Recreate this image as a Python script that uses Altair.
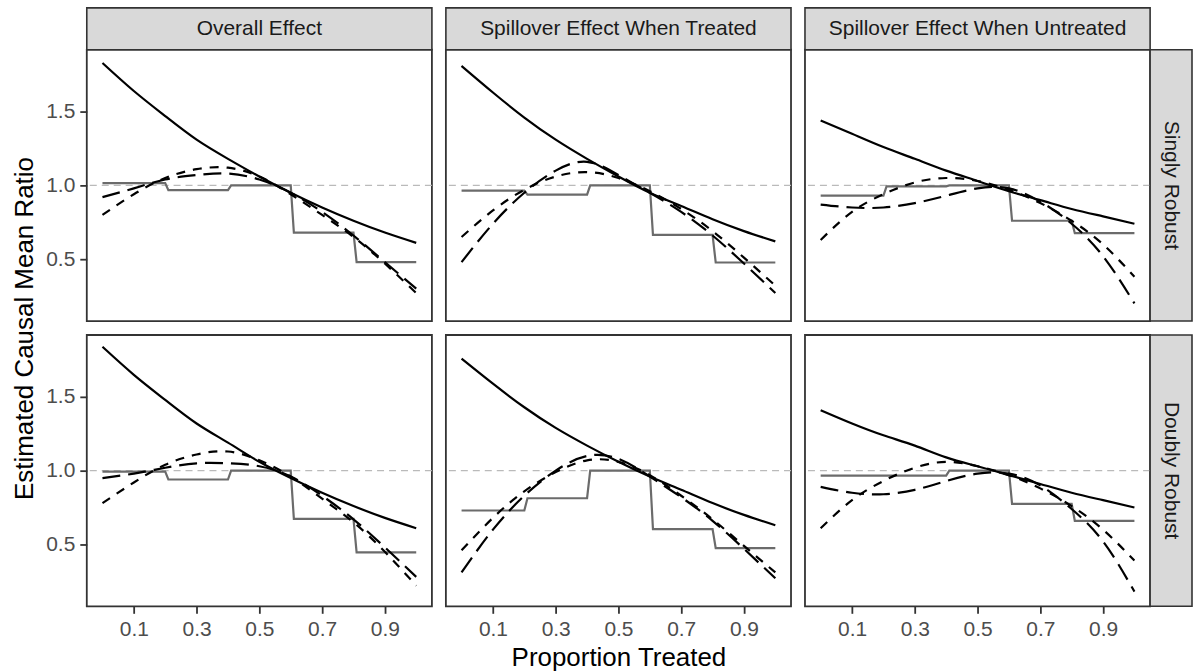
import altair as alt
import pandas as pd

# ---------------- data ----------------
x_grid = [0.0, 0.1, 0.2, 0.3, 0.4, 0.5, 0.6, 0.7, 0.8, 0.9, 1.0]
col_labels = ["Overall Effect", "Spillover Effect When Treated", "Spillover Effect When Untreated"]
row_labels = ["Singly Robust", "Doubly Robust"]
x_ticks = [0.1, 0.3, 0.5, 0.7, 0.9]
y_ticks = [0.5, 1.0, 1.5]
step_breaks = [0.0, 0.2, 0.4, 0.6, 0.8, 1.0]

# Singly Robust row
solid_sr_overall = [1.83, 1.64, 1.47, 1.31, 1.18, 1.06, 0.95, 0.85, 0.76, 0.68, 0.61]
short_sr_overall = [0.80, 0.94, 1.05, 1.11, 1.12, 1.06, 0.94, 0.80, 0.65, 0.47, 0.27]
long_sr_overall = [0.92, 0.98, 1.04, 1.07, 1.08, 1.04, 0.95, 0.82, 0.66, 0.48, 0.30]
step_sr_overall = [1.015, 0.968, 1.0, 0.68, 0.48]

solid_sr_treated = [1.81, 1.63, 1.46, 1.31, 1.18, 1.06, 0.95, 0.86, 0.77, 0.69, 0.62]
short_sr_treated = [0.65, 0.83, 0.97, 1.06, 1.09, 1.05, 0.96, 0.84, 0.69, 0.51, 0.32]
long_sr_treated = [0.48, 0.74, 0.95, 1.10, 1.16, 1.07, 0.95, 0.82, 0.66, 0.47, 0.27]
step_sr_treated = [0.965, 0.937, 1.0, 0.664, 0.477]

solid_sr_untreated = [1.44, 1.35, 1.26, 1.18, 1.10, 1.03, 0.96, 0.90, 0.84, 0.79, 0.74]
short_sr_untreated = [0.63, 0.82, 0.94, 1.02, 1.05, 1.03, 0.97, 0.88, 0.76, 0.60, 0.38]
long_sr_untreated = [0.87, 0.85, 0.85, 0.88, 0.93, 0.98, 0.98, 0.89, 0.74, 0.52, 0.20]
step_sr_untreated = [0.93, 0.993, 1.0, 0.76, 0.676]

# Doubly Robust row
solid_dr_overall = [1.84, 1.65, 1.48, 1.32, 1.19, 1.06, 0.95, 0.85, 0.76, 0.68, 0.61]
short_dr_overall = [0.78, 0.92, 1.04, 1.11, 1.13, 1.07, 0.96, 0.81, 0.65, 0.45, 0.22]
long_dr_overall = [0.95, 0.98, 1.02, 1.05, 1.05, 1.03, 0.96, 0.83, 0.67, 0.48, 0.28]
step_dr_overall = [0.993, 0.94, 1.0, 0.673, 0.446]

solid_dr_treated = [1.76, 1.59, 1.43, 1.29, 1.17, 1.06, 0.96, 0.87, 0.78, 0.70, 0.63]
short_dr_treated = [0.46, 0.68, 0.86, 0.99, 1.07, 1.06, 0.97, 0.83, 0.67, 0.49, 0.31]
long_dr_treated = [0.31, 0.60, 0.83, 1.00, 1.10, 1.08, 0.96, 0.82, 0.66, 0.47, 0.27]
step_dr_treated = [0.73, 0.813, 1.0, 0.604, 0.475]

solid_dr_untreated = [1.41, 1.32, 1.24, 1.17, 1.09, 1.03, 0.97, 0.91, 0.85, 0.80, 0.75]
short_dr_untreated = [0.61, 0.80, 0.93, 1.02, 1.06, 1.03, 0.97, 0.88, 0.76, 0.60, 0.39]
long_dr_untreated = [0.89, 0.85, 0.84, 0.87, 0.93, 0.98, 0.98, 0.90, 0.74, 0.52, 0.18]
step_dr_untreated = [0.966, 0.966, 1.0, 0.775, 0.66]

reference_level = [1.0]

panels_data = {
    (0, 0): (solid_sr_overall, short_sr_overall, long_sr_overall, step_sr_overall),
    (0, 1): (solid_sr_treated, short_sr_treated, long_sr_treated, step_sr_treated),
    (0, 2): (solid_sr_untreated, short_sr_untreated, long_sr_untreated, step_sr_untreated),
    (1, 0): (solid_dr_overall, short_dr_overall, long_dr_overall, step_dr_overall),
    (1, 1): (solid_dr_treated, short_dr_treated, long_dr_treated, step_dr_treated),
    (1, 2): (solid_dr_untreated, short_dr_untreated, long_dr_untreated, step_dr_untreated),
}

# ---------------- styling ----------------
W, H = 346, 272
GAP = 14
STRIP = 42
FONT = "Liberation Sans"
LABEL_SIZE = 21
TITLE_SIZE = 26
XS = alt.Scale(domain=[-0.05, 1.05], nice=False, zero=False)
YS = alt.Scale(domain=[0.08, 1.92], nice=False, zero=False)


def step_frame(levels):
    xs, ys = [], []
    for i, lv in enumerate(levels):
        start = step_breaks[i] + (0.01 if i > 0 else 0.0)
        xs += [start, step_breaks[i + 1]]
        ys += [lv, lv]
    return pd.DataFrame({"x": xs, "y": ys})


def make_panel(r, c):
    solid, short, long_, step = panels_data[(r, c)]
    if r == 1:
        x_axis = alt.Axis(values=x_ticks, format=".1f", title="Proportion Treated" if c == 1 else None,
                          grid=False)
    else:
        x_axis = None
    if c == 0:
        if r == 0:
            y_axis = alt.Axis(values=y_ticks, format=".1f", title="Estimated Causal Mean Ratio",
                              grid=False, titleY=H + GAP / 2)
        else:
            y_axis = alt.Axis(values=y_ticks, format=".1f", title=None, grid=False)
    else:
        y_axis = None

    X = alt.X("x:Q", scale=XS, axis=x_axis)
    Y = alt.Y("y:Q", scale=YS, axis=y_axis)

    ref = alt.Chart(pd.DataFrame({"y": reference_level})).mark_rule(
        color="#BABABA", strokeWidth=1.1, strokeDash=[7, 5]
    ).encode(y=Y)
    stepc = alt.Chart(step_frame(step)).mark_line(color="#6B6B6B", strokeWidth=2.2).encode(x=X, y=Y)
    sol = alt.Chart(pd.DataFrame({"x": x_grid, "y": solid})).mark_line(
        color="black", strokeWidth=2.2, interpolate="natural").encode(x=X, y=Y)
    sh = alt.Chart(pd.DataFrame({"x": x_grid, "y": short})).mark_line(
        color="black", strokeWidth=2.2, interpolate="natural", strokeDash=[9, 8]).encode(x=X, y=Y)
    lo = alt.Chart(pd.DataFrame({"x": x_grid, "y": long_})).mark_line(
        color="black", strokeWidth=2.2, interpolate="natural", strokeDash=[18, 8]).encode(x=X, y=Y)

    layers = [ref, stepc, sol, sh, lo]
    one = pd.DataFrame({"k": [0]})
    if r == 0:
        layers.append(alt.Chart(one).mark_rect(fill="#D9D9D9", stroke="#333333", strokeWidth=1.6).encode(
            x=alt.value(0), x2=alt.value(W), y=alt.value(-STRIP), y2=alt.value(0)))
        layers.append(alt.Chart(one).mark_text(
            text=col_labels[c], font=FONT, fontSize=LABEL_SIZE, color="#1A1A1A", align="center",
            baseline="middle"
        ).encode(x=alt.value(W / 2), y=alt.value(-STRIP / 2)))
    if c == 2:
        layers.append(alt.Chart(one).mark_rect(fill="#D9D9D9", stroke="#333333", strokeWidth=1.6).encode(
            x=alt.value(W), x2=alt.value(W + STRIP), y=alt.value(0), y2=alt.value(H)))
        layers.append(alt.Chart(one).mark_text(
            text=row_labels[r], font=FONT, fontSize=LABEL_SIZE, color="#1A1A1A", align="center",
            baseline="middle", angle=90
        ).encode(x=alt.value(W + STRIP / 2), y=alt.value(H / 2)))

    return alt.layer(*layers).properties(width=W, height=H)


panels = [make_panel(r, c) for r in range(2) for c in range(3)]

chart = alt.concat(*panels, columns=3, spacing=GAP, bounds="flush").properties(
    padding={"left": 10, "top": 5, "right": 0, "bottom": 3}
).configure_view(
    stroke="#333333", strokeWidth=1.8
).configure_axis(
    labelFont=FONT, titleFont=FONT, labelFontSize=LABEL_SIZE, titleFontSize=TITLE_SIZE,
    labelColor="#4D4D4D", titleColor="black", titleFontWeight="normal",
    domain=False, tickColor="#333333", tickWidth=1.8, tickSize=7, labelPadding=5,
    titlePadding=8
).configure_axisX(titlePadding=5)

chart.save("out.html", embed_options={"renderer": "svg", "actions": False})
